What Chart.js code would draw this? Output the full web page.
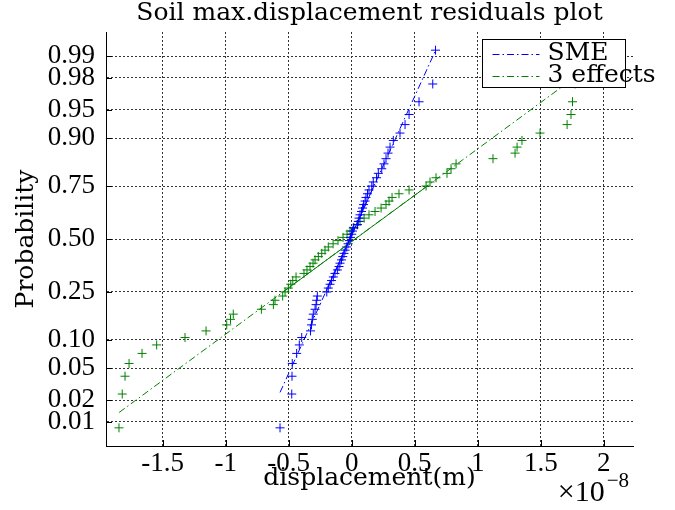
<!DOCTYPE html>
<html>
<head>
<meta charset="utf-8">
<script src="https://cdn.jsdelivr.net/npm/chart.js@4/dist/chart.umd.min.js"></script>
<style>
  body { margin: 0; background: #fff; }
  canvas { display: block; }
</style>
</head>
<body>
<canvas id="chart" width="675" height="510"></canvas>
<script>
// Normal probability plot of residuals (x in units of 1e-8 m)

// plotting positions, shared by both series
const probs = [0.0081, 0.0242, 0.0403, 0.0565, 0.0726, 0.0887, 0.1048, 0.1210, 0.1371, 0.1532,
  0.1694, 0.1855, 0.2016, 0.2177, 0.2339, 0.2500, 0.2661, 0.2823, 0.2984, 0.3145,
  0.3306, 0.3468, 0.3629, 0.3790, 0.3952, 0.4113, 0.4274, 0.4435, 0.4597, 0.4758,
  0.4919, 0.5081, 0.5242, 0.5403, 0.5565, 0.5726, 0.5887, 0.6048, 0.6210, 0.6371,
  0.6532, 0.6694, 0.6855, 0.7016, 0.7177, 0.7339, 0.7500, 0.7661, 0.7823, 0.7984,
  0.8145, 0.8306, 0.8468, 0.8629, 0.8790, 0.8952, 0.9113, 0.9274, 0.9435, 0.9597,
  0.9758, 0.9919];

// sorted residuals, SME
const smeX = [-0.569, -0.476, -0.474, -0.472, -0.437, -0.416, -0.397, -0.327, -0.319, -0.313,
  -0.305, -0.291, -0.283, -0.278, -0.273, -0.198, -0.186, -0.172, -0.160, -0.146,
  -0.133, -0.114, -0.101, -0.093, -0.081, -0.071, -0.061, -0.053, -0.040, -0.029,
  -0.019, -0.010, 0.000, 0.006, 0.013, 0.046, 0.052, 0.058, 0.066, 0.078,
  0.086, 0.094, 0.106, 0.113, 0.125, 0.137, 0.159, 0.171, 0.197, 0.211,
  0.238, 0.256, 0.272, 0.288, 0.304, 0.330, 0.383, 0.423, 0.455, 0.534,
  0.643, 0.665];

// sorted residuals, 3 effects
const effX = [-1.847, -1.821, -1.799, -1.767, -1.664, -1.548, -1.323, -1.156, -0.992, -0.962,
  -0.940, -0.717, -0.622, -0.609, -0.548, -0.529, -0.503, -0.484, -0.468, -0.442,
  -0.379, -0.355, -0.331, -0.307, -0.291, -0.265, -0.238, -0.212, -0.186, -0.148,
  -0.109, -0.069, -0.037, -0.013, 0.018, 0.042, 0.066, 0.098, 0.137, 0.185,
  0.233, 0.272, 0.296, 0.320, 0.375, 0.455, 0.590, 0.621, 0.669, 0.756,
  0.788, 0.828, 1.121, 1.296, 1.312, 1.351, 1.494, 1.709, 1.740, 1.752,
  1.772, 1.812];

// reference lines: full extent (dash-dot) and quartile part (solid)
const smeFitX = [-0.569, 0.665];
const smeFitP = [0.0254, 0.9918];
const smeQuartX = [-0.206, 0.176];
const effFitX = [-1.846, 1.750];
const effFitP = [0.0136, 0.9790];
const effQuartX = [-0.545, 0.600];
const quartP = [0.25, 0.75];

const probTicks = [0.01, 0.02, 0.05, 0.10, 0.25, 0.50, 0.75, 0.90, 0.95, 0.98, 0.99];
const xTicks = [-1.5, -1, -0.5, 0, 0.5, 1, 1.5, 2];
const seriesNames = ['SME', '3 effects'];
const seriesColors = ['#0000ff', '#008000'];

const NUM_FONT = "'Liberation Serif', 'Times New Roman', serif";
const TXT_FONT = "'DejaVu Serif', serif";
const DASHDOT = [7, 3, 1.5, 3];
const GRID_DASH = [2, 2];

// inverse normal CDF (Acklam), used by the probability axis
function norminv(p) {
  const a = [-3.969683028665376e+01, 2.209460984245205e+02, -2.759285104469687e+02, 1.383577518672690e+02, -3.066479806614716e+01, 2.506628277459239e+00];
  const b = [-5.447609879822406e+01, 1.615858368580409e+02, -1.556989798598866e+02, 6.680131188771972e+01, -1.328068155288572e+01];
  const c = [-7.784894002430293e-03, -3.223964580411365e-01, -2.400758277161838e+00, -2.549732539343734e+00, 4.374664141464968e+00, 2.938163982698783e+00];
  const d = [7.784695709041462e-03, 3.224671290700398e-01, 2.445134137142996e+00, 3.754408661907416e+00];
  const pl = 0.02425;
  if (p < pl) {
    const q = Math.sqrt(-2 * Math.log(p));
    return (((((c[0]*q+c[1])*q+c[2])*q+c[3])*q+c[4])*q+c[5]) / ((((d[0]*q+d[1])*q+d[2])*q+d[3])*q+1);
  }
  if (p > 1 - pl) {
    const q = Math.sqrt(-2 * Math.log(1 - p));
    return -(((((c[0]*q+c[1])*q+c[2])*q+c[3])*q+c[4])*q+c[5]) / ((((d[0]*q+d[1])*q+d[2])*q+d[3])*q+1);
  }
  const q = p - 0.5, r = q * q;
  return (((((a[0]*r+a[1])*r+a[2])*r+a[3])*r+a[4])*r+a[5])*q / (((((b[0]*r+b[1])*r+b[2])*r+b[3])*r+b[4])*r+1);
}

// probability (normal quantile) scale
class NormProbScale extends Chart.Scale {
  determineDataLimits() {
    this.min = this.options.min;
    this.max = this.options.max;
    this._zMin = norminv(this.min);
    this._zMax = norminv(this.max);
  }
  buildTicks() {
    return probTicks.map(p => ({ value: p }));
  }
  getLabelForValue(value) {
    return value.toFixed(2);
  }
  getPixelForValue(value) {
    const z = norminv(value);
    return this.getPixelForDecimal((z - this._zMin) / (this._zMax - this._zMin));
  }
  getValueForPixel(pixel) {
    const z = this._zMin + this.getDecimalForPixel(pixel) * (this._zMax - this._zMin);
    let lo = 1e-9, hi = 1 - 1e-9;
    for (let i = 0; i < 50; i++) {
      const mid = (lo + hi) / 2;
      if (norminv(mid) < z) lo = mid; else hi = mid;
    }
    return (lo + hi) / 2;
  }
}
NormProbScale.id = 'normprob';
NormProbScale.defaults = {};
Chart.register(NormProbScale);

function toPoints(xs, ps) {
  return xs.map((x, i) => ({ x: x, y: ps[i] }));
}

function pointSet(xs, color) {
  return {
    data: toPoints(xs, probs),
    showLine: false,
    pointStyle: 'cross',
    pointRadius: 4.5,
    pointBorderWidth: 1,
    borderColor: color,
    backgroundColor: color
  };
}

function lineSet(xs, ps, color, dash) {
  return {
    data: toPoints(xs, ps),
    showLine: true,
    pointRadius: 0,
    borderWidth: 1,
    borderColor: color,
    borderDash: dash,
    fill: false
  };
}

// inward ticks, legend box and the x exponent
const extras = {
  id: 'extras',
  afterDatasetsDraw(chart) {
    const { ctx, chartArea: a, scales: { x, y } } = chart;
    ctx.save();
    ctx.strokeStyle = '#000';
    ctx.lineWidth = 1;
    ctx.setLineDash([]);
    ctx.beginPath();
    x.ticks.forEach(t => {
      const px = Math.round(x.getPixelForValue(t.value)) + 0.5;
      ctx.moveTo(px, a.bottom);
      ctx.lineTo(px, a.bottom - 6);
    });
    y.ticks.forEach(t => {
      const py = Math.round(y.getPixelForValue(t.value)) + 0.5;
      ctx.moveTo(a.left, py);
      ctx.lineTo(a.left + 6, py);
    });
    ctx.stroke();

    // legend
    const bx = a.right - 150.5, by = a.top + 7.5, bw = 143, bh = 48;
    ctx.fillStyle = '#fff';
    ctx.fillRect(bx, by, bw, bh);
    ctx.strokeRect(bx, by, bw, bh);
    ctx.font = '25px ' + TXT_FONT;
    ctx.textBaseline = 'middle';
    ctx.textAlign = 'left';
    seriesNames.forEach((name, i) => {
      const ly = by + 14 + i * 22;
      ctx.strokeStyle = seriesColors[i];
      ctx.setLineDash(DASHDOT);
      ctx.beginPath();
      ctx.moveTo(bx + 10, ly + 1);
      ctx.lineTo(bx + 57, ly + 1);
      ctx.stroke();
      ctx.fillStyle = '#000';
      ctx.fillText(name, bx + 65, ly);
    });
    ctx.restore();
  },
  afterDraw(chart) {
    const { ctx, chartArea: a } = chart;
    ctx.save();
    ctx.fillStyle = '#000';
    ctx.textBaseline = 'alphabetic';
    ctx.textAlign = 'right';
    ctx.font = '21px ' + NUM_FONT;
    ctx.fillText('\u22128', a.right - 4, 487);
    const w = ctx.measureText('\u22128').width;
    ctx.font = '30px ' + NUM_FONT;
    ctx.fillText('\u00d710', a.right - w - 6, 501);
    ctx.restore();
  }
};

Chart.defaults.color = '#000';
Chart.defaults.font.family = NUM_FONT;

new Chart(document.getElementById('chart'), {
  type: 'scatter',
  data: {
    datasets: [
      lineSet(smeFitX, smeFitP, seriesColors[0], DASHDOT),
      lineSet(smeQuartX, quartP, seriesColors[0], []),
      lineSet(effFitX, effFitP, seriesColors[1], DASHDOT),
      lineSet(effQuartX, quartP, seriesColors[1], []),
      pointSet(smeX, seriesColors[0]),
      pointSet(effX, seriesColors[1])
    ]
  },
  options: {
    responsive: false,
    animation: false,
    events: [],
    layout: { padding: { left: 0, right: 42, top: 0, bottom: 0 } },
    plugins: {
      legend: { display: false },
      tooltip: { enabled: false },
      title: {
        display: true,
        text: 'Soil max.displacement residuals plot',
        fullSize: false,
        font: { family: TXT_FONT, size: 25, weight: 'normal', lineHeight: 1 },
        padding: { top: 1, bottom: 6 }
      }
    },
    scales: {
      x: {
        type: 'linear',
        min: -1.95,
        max: 2.232,
        afterBuildTicks: s => { s.ticks = xTicks.map(v => ({ value: v })); },
        afterFit: s => { s.height = 64; },
        ticks: {
          autoSkip: false,
          maxRotation: 0,
          padding: 4,
          font: { size: 27, lineHeight: 1 },
          callback: v => String(v)
        },
        grid: { color: '#333', lineWidth: 1, drawTicks: false },
        border: { display: true, color: '#000', width: 1, dash: GRID_DASH },
        title: {
          display: true,
          text: 'displacement(m)',
          font: { family: TXT_FONT, size: 25, lineHeight: 1 },
          padding: { top: 0, bottom: 19 }
        }
      },
      y: {
        type: 'normprob',
        min: 0.0042,
        max: 0.9958,
        afterFit: s => { s.width = 106; },
        ticks: {
          autoSkip: false,
          padding: 11,
          font: { size: 27, lineHeight: 1 },
          callback: v => v.toFixed(2)
        },
        grid: { color: '#333', lineWidth: 1, drawTicks: false },
        border: { display: true, color: '#000', width: 1, dash: GRID_DASH },
        title: {
          display: true,
          text: 'Probability',
          font: { family: TXT_FONT, size: 25, lineHeight: 1 },
          padding: { top: 14, bottom: 0 }
        }
      }
    }
  },
  plugins: [extras]
});
</script>
</body>
</html>
